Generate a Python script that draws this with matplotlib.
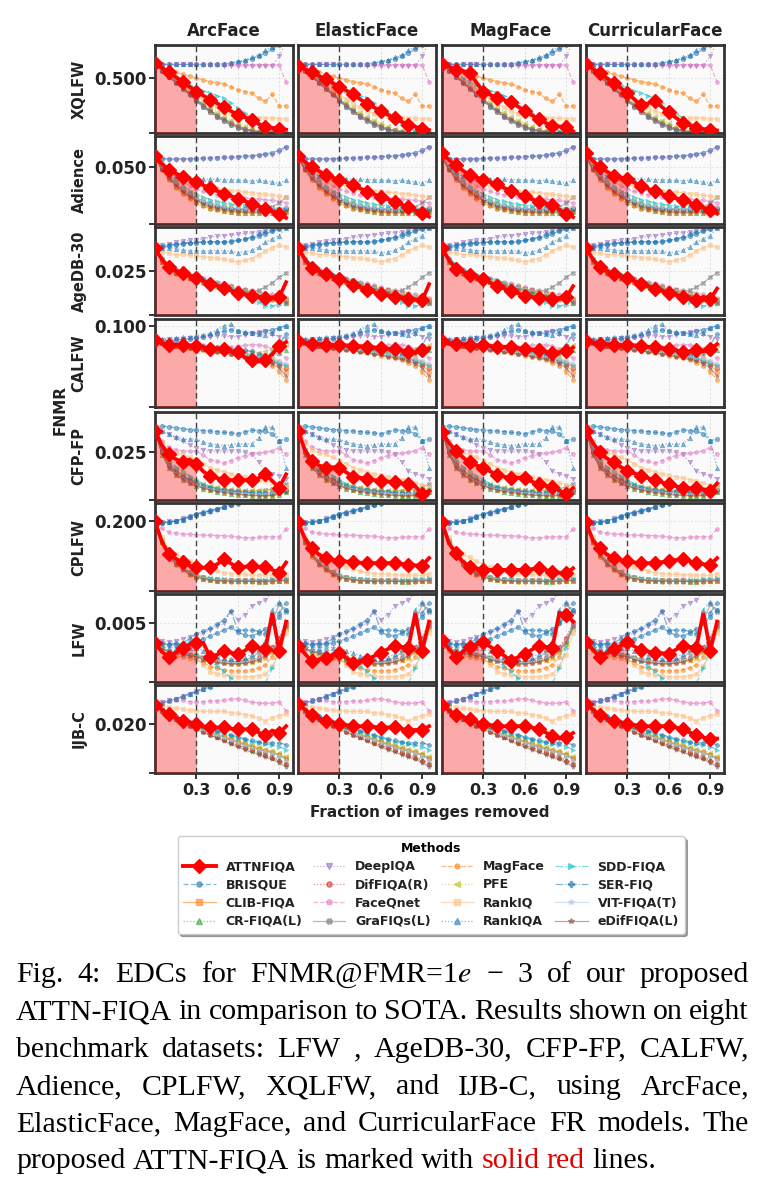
import numpy as np
import matplotlib
matplotlib.use('Agg')
import matplotlib.pyplot as plt
from matplotlib.lines import Line2D

plt.rcParams['font.family'] = ['DejaVu Sans']
plt.rcParams['mathtext.fontset'] = 'stix'

# fraction of images removed
X = np.round(np.arange(20) * 0.05, 2)

COLUMNS = ['ArcFace', 'ElasticFace', 'MagFace', 'CurricularFace']
DATASETS = ['XQLFW', 'Adience', 'AgeDB-30', 'CALFW', 'CFP-FP', 'CPLFW', 'LFW', 'IJB-C']
METHODS = ['BRISQUE', 'CLIB-FIQA', 'CR-FIQA(L)', 'DeepIQA', 'DifFIQA(R)', 'FaceQnet',
           'GraFIQs(L)', 'MagFace', 'PFE', 'RankIQ', 'RankIQA', 'SDD-FIQA', 'SER-FIQ',
           'VIT-FIQA(T)', 'eDifFIQA(L)']

# FNMR@FMR=1e-3, all values in units of 1e-3
XQLFW_ATTN = {
    'ArcFace':        [540, 528, 515, 503, 490, 476, 463, 452, 441, 431, 421, 410, 400, 393, 386, 375, 366, 364, 362, 359],
    'ElasticFace':    [533, 524, 515, 506, 497, 487, 476, 466, 455, 442, 430, 420, 410, 400, 390, 381, 372, 367, 362, 358],
    'MagFace':        [537, 531, 523, 520, 513, 488, 462, 454, 446, 440, 434, 422, 411, 399, 387, 378, 369, 368, 366, 355],
    'CurricularFace': [537, 525, 513, 500, 487, 473, 459, 442, 425, 431, 437, 421, 406, 392, 378, 371, 364, 361, 359, 357],
}
XQLFW_BASE = {
    'BRISQUE':     [538, 537, 537, 537, 537, 537, 537, 537, 537, 538, 538, 540, 543, 547, 553, 560, 568, 578, 590, 600],
    'CLIB-FIQA':   [540, 520, 503, 487, 471, 455, 437, 421, 407, 393, 382, 372, 364, 358, 354, 351, 350, 349, 348, 347],
    'CR-FIQA(L)':  [540, 523, 506, 491, 476, 460, 443, 428, 413, 400, 389, 379, 370, 363, 358, 354, 352, 350, 349, 348],
    'DeepIQA':     [537, 536, 536, 537, 537, 537, 536, 536, 535, 535, 534, 534, 533, 533, 534, 533, 533, 534, 560, 600],
    'DifFIQA(R)':  [541, 521, 504, 489, 473, 457, 441, 425, 410, 397, 386, 376, 368, 361, 357, 353, 351, 350, 349, 348],
    'FaceQnet':    [540, 539, 539, 538, 538, 538, 538, 537, 537, 537, 537, 537, 536, 536, 536, 536, 536, 536, 535, 488],
    'GraFIQs(L)':  [539, 522, 505, 490, 475, 459, 442, 427, 412, 399, 388, 378, 369, 362, 357, 354, 352, 350, 349, 348],
    'MagFace':     [542, 532, 524, 516, 510, 505, 500, 495, 490, 487, 484, 476, 468, 463, 459, 445, 436, 455, 424, 424],
    'PFE':         [540, 524, 508, 493, 478, 463, 448, 434, 420, 407, 395, 385, 376, 368, 362, 357, 354, 352, 350, 349],
    'RankIQ':      [540, 525, 510, 496, 482, 468, 455, 442, 430, 420, 410, 403, 398, 395, 392, 391, 391, 390, 389, 388],
    'RankIQA':     [537, 537, 537, 537, 537, 537, 537, 537, 538, 538, 539, 541, 545, 550, 556, 564, 575, 585, 595, 600],
    'SDD-FIQA':    [540, 528, 515, 500, 488, 480, 472, 465, 459, 452, 445, 432, 418, 405, 391, 378, 364, 356, 352, 350],
    'SER-FIQ':     [538, 520, 502, 486, 470, 454, 437, 421, 406, 393, 382, 372, 364, 358, 354, 352, 350, 349, 348, 347],
    'VIT-FIQA(T)': [540, 521, 504, 488, 472, 456, 439, 423, 408, 395, 384, 374, 366, 360, 355, 352, 350, 349, 348, 347],
    'eDifFIQA(L)': [540, 522, 505, 489, 473, 457, 440, 424, 409, 396, 385, 375, 367, 360, 356, 353, 351, 350, 349, 348],
}

ADIENCE_ATTN = {
    'ArcFace':        [55.4, 51.5, 48.3, 46.5, 44.8, 43.5, 42.1, 40.3, 38.6, 37.2, 35.9, 34.6, 33.3, 32.0, 30.6, 29.4, 28.0, 26.6, 25.3, 23.2],
    'ElasticFace':    [55.5, 52.5, 50.0, 47.8, 45.6, 44.3, 43.0, 41.7, 40.4, 38.6, 36.9, 35.6, 34.3, 33.0, 31.7, 30.2, 28.7, 27.2, 25.6, 23.8],
    'MagFace':        [56.9, 53.5, 50.7, 48.0, 45.6, 44.4, 43.1, 41.9, 40.7, 38.9, 37.1, 35.8, 34.4, 33.0, 31.7, 30.8, 29.9, 27.6, 25.4, 23.6],
    'CurricularFace': [56.9, 53.0, 49.8, 47.5, 45.3, 44.4, 43.5, 41.6, 39.8, 38.4, 37.1, 35.8, 34.4, 33.5, 32.6, 31.2, 29.9, 28.5, 27.2, 25.4],
}
ADIENCE_BASE = {
    'BRISQUE':     [55.0, 54.2, 54.0, 54.0, 54.0, 54.1, 54.2, 54.3, 54.5, 54.7, 54.9, 55.0, 55.2, 55.4, 55.7, 56.0, 56.5, 57.3, 58.5, 60.5],
    'CLIB-FIQA':   [55.5, 49.0, 44.5, 40.8, 37.5, 34.8, 32.5, 30.8, 29.5, 28.5, 27.8, 27.3, 27.0, 26.8, 26.7, 26.6, 26.6, 26.7, 26.9, 27.3],
    'CR-FIQA(L)':  [55.0, 48.5, 43.8, 40.0, 36.8, 34.0, 31.7, 30.0, 28.6, 27.6, 26.9, 26.4, 26.0, 25.8, 25.6, 25.6, 25.7, 25.9, 26.2, 26.5],
    'DeepIQA':     [54.5, 53.8, 53.6, 53.5, 53.6, 53.7, 53.9, 54.0, 54.2, 54.3, 54.4, 54.6, 54.8, 55.0, 55.2, 55.5, 55.9, 56.0, 57.5, 59.5],
    'DifFIQA(R)':  [55.3, 49.2, 44.8, 41.2, 38.0, 35.3, 33.0, 31.3, 30.0, 29.0, 28.3, 27.8, 27.5, 27.3, 27.2, 27.1, 27.2, 27.4, 27.8, 28.3],
    'FaceQnet':    [55.5, 51.0, 47.5, 44.5, 42.0, 40.0, 38.3, 37.0, 36.0, 35.2, 34.6, 34.2, 33.9, 33.6, 33.3, 33.0, 32.7, 32.3, 31.8, 31.0],
    'GraFIQs(L)':  [55.2, 49.5, 45.0, 41.5, 38.5, 35.8, 33.5, 31.8, 30.5, 29.5, 28.8, 28.3, 28.0, 27.9, 27.9, 28.0, 28.3, 29.0, 31.0, 34.0],
    'MagFace':     [55.0, 48.0, 43.0, 39.0, 35.8, 33.0, 30.8, 29.2, 28.0, 27.2, 26.6, 26.2, 26.0, 25.9, 25.9, 26.0, 26.1, 26.3, 26.5, 26.8],
    'PFE':         [55.2, 49.8, 45.5, 42.0, 39.0, 36.5, 34.3, 32.6, 31.3, 30.2, 29.4, 28.8, 28.4, 28.0, 27.8, 27.6, 27.4, 27.2, 27.0, 26.8],
    'RankIQ':      [55.5, 51.5, 48.0, 45.5, 43.5, 42.0, 40.8, 39.8, 39.0, 38.4, 37.9, 37.5, 37.1, 36.7, 36.3, 35.9, 35.5, 35.0, 34.5, 34.0],
    'RankIQA':     [55.0, 50.5, 47.0, 45.0, 44.2, 43.8, 43.6, 43.5, 43.4, 43.3, 43.2, 43.1, 43.0, 42.8, 42.6, 42.8, 42.5, 42.0, 41.3, 43.0],
    'SDD-FIQA':    [55.3, 50.0, 46.0, 42.8, 40.0, 37.5, 35.5, 34.0, 32.8, 31.8, 31.0, 30.3, 29.8, 29.4, 29.0, 28.7, 28.4, 28.2, 28.0, 27.8],
    'SER-FIQ':     [55.0, 49.0, 44.5, 41.0, 38.0, 35.5, 33.3, 31.6, 30.3, 29.3, 28.6, 28.1, 27.8, 27.6, 27.5, 27.4, 27.4, 27.5, 27.7, 28.0],
    'VIT-FIQA(T)': [55.4, 49.3, 44.8, 41.3, 38.2, 35.6, 33.4, 31.8, 30.6, 29.7, 29.0, 28.5, 28.2, 28.0, 27.9, 27.9, 28.0, 28.2, 28.5, 29.0],
    'eDifFIQA(L)': [55.1, 48.6, 44.0, 40.3, 37.1, 34.4, 32.1, 30.4, 29.1, 28.1, 27.4, 26.9, 26.5, 26.3, 26.2, 26.1, 26.2, 26.3, 26.5, 26.8],
}

AGEDB_ATTN = {
    'ArcFace':        [32.7, 29.0, 26.2, 25.1, 24.2, 23.4, 22.7, 21.7, 20.7, 20.0, 19.2, 18.3, 17.5, 17.0, 16.6, 16.2, 15.8, 16.0, 16.1, 21.2],
    'ElasticFace':    [33.0, 29.0, 26.0, 25.0, 24.0, 23.2, 22.4, 21.4, 20.3, 19.5, 18.6, 17.8, 17.0, 16.6, 16.2, 15.9, 15.6, 15.3, 15.0, 20.5],
    'MagFace':        [32.8, 28.8, 25.8, 24.8, 23.8, 23.0, 22.2, 21.0, 19.8, 19.0, 18.2, 17.4, 16.6, 16.2, 15.8, 15.6, 15.4, 15.8, 16.0, 19.8],
    'CurricularFace': [32.9, 29.0, 26.2, 25.0, 23.9, 23.3, 22.6, 21.6, 20.5, 19.8, 19.0, 18.2, 17.4, 16.8, 16.3, 15.6, 15.0, 16.2, 15.4, 19.0],
}
AGEDB_BASE = {
    'BRISQUE':     [32.7, 33.2, 33.6, 34.0, 34.3, 34.5, 34.7, 34.8, 34.9, 35.0, 35.0, 35.2, 35.4, 35.8, 36.2, 36.8, 37.7, 38.5, 39.2, 40.0],
    'CLIB-FIQA':   [32.5, 28.5, 26.0, 24.6, 23.6, 22.8, 22.0, 21.4, 20.9, 20.3, 19.8, 19.2, 18.6, 18.0, 17.4, 16.9, 16.4, 15.9, 15.3, 14.6],
    'CR-FIQA(L)':  [32.6, 28.2, 25.7, 24.3, 23.3, 22.5, 21.8, 21.2, 20.6, 20.0, 19.4, 18.8, 18.2, 17.6, 17.0, 16.5, 16.0, 15.5, 14.9, 14.2],
    'DeepIQA':     [32.8, 33.8, 34.2, 34.8, 35.2, 35.4, 35.5, 36.0, 36.5, 36.8, 37.1, 37.3, 37.5, 37.8, 38.0, 38.3, 38.6, 38.9, 39.2, 40.0],
    'DifFIQA(R)':  [32.4, 28.8, 26.4, 25.0, 24.0, 23.2, 22.5, 21.9, 21.3, 20.7, 20.2, 19.6, 19.0, 18.4, 17.8, 17.3, 16.8, 16.2, 15.6, 15.0],
    'FaceQnet':    [32.7, 29.5, 27.0, 25.6, 24.6, 23.8, 23.1, 22.5, 21.9, 21.3, 20.8, 20.2, 19.6, 19.0, 18.5, 18.0, 17.5, 17.0, 16.4, 15.8],
    'GraFIQs(L)':  [32.5, 28.7, 26.2, 24.8, 23.8, 23.0, 22.3, 21.7, 21.1, 20.5, 20.0, 19.4, 18.9, 18.4, 18.0, 18.4, 19.5, 21.0, 22.8, 24.4],
    'MagFace':     [32.3, 28.0, 25.5, 24.0, 23.0, 22.2, 21.5, 20.8, 20.2, 19.6, 19.0, 18.4, 17.8, 17.2, 16.7, 16.2, 15.7, 15.2, 14.7, 14.2],
    'PFE':         [32.6, 28.9, 26.5, 25.1, 24.1, 23.3, 22.6, 22.0, 21.4, 20.8, 20.2, 19.6, 19.0, 18.5, 18.0, 17.5, 17.0, 16.5, 15.9, 15.3],
    'RankIQ':      [32.7, 31.6, 31.0, 30.5, 30.8, 30.4, 30.2, 29.8, 29.6, 29.3, 29.0, 28.6, 28.1, 28.6, 29.2, 30.5, 31.9, 33.0, 33.7, 33.2],
    'RankIQA':     [32.7, 32.9, 33.0, 32.6, 32.2, 31.9, 31.9, 31.8, 31.9, 31.9, 31.9, 31.7, 31.3, 31.5, 32.0, 33.2, 34.8, 36.0, 37.1, 39.8],
    'SDD-FIQA':    [32.8, 29.6, 27.3, 25.8, 24.7, 23.9, 23.2, 22.5, 21.8, 21.0, 20.2, 19.3, 18.4, 17.4, 16.4, 14.6, 12.9, 13.2, 13.5, 14.0],
    'SER-FIQ':     [32.7, 33.5, 34.0, 34.2, 34.5, 34.7, 34.8, 34.9, 35.0, 35.0, 34.8, 35.0, 35.4, 36.0, 36.5, 37.5, 38.3, 39.0, 39.6, 40.0],
    'VIT-FIQA(T)': [32.5, 28.6, 26.1, 24.7, 23.7, 22.9, 22.2, 21.6, 21.0, 20.4, 19.9, 19.3, 18.7, 18.1, 17.6, 17.1, 16.6, 16.1, 15.5, 14.9],
    'eDifFIQA(L)': [32.4, 28.3, 25.8, 24.4, 23.4, 22.6, 21.9, 21.3, 20.7, 20.1, 19.5, 18.9, 18.3, 17.7, 17.1, 16.6, 16.1, 15.6, 15.0, 14.4],
}

CALFW_ATTN = {
    'ArcFace':        [89.5, 87.0, 85.5, 86.0, 85.5, 85.0, 85.0, 84.0, 83.0, 83.5, 82.5, 81.0, 80.5, 76.5, 75.0, 73.5, 74.5, 79.0, 85.0, 88.0],
    'ElasticFace':    [89.0, 87.5, 86.5, 86.5, 86.0, 86.0, 85.5, 85.5, 85.0, 85.0, 84.5, 84.0, 83.5, 83.0, 82.5, 82.0, 80.5, 80.0, 82.0, 83.5],
    'MagFace':        [88.5, 87.0, 86.5, 86.5, 86.0, 85.5, 85.5, 85.0, 84.5, 84.5, 84.0, 83.5, 83.0, 82.5, 82.0, 81.0, 80.0, 80.5, 81.0, 84.0],
    'CurricularFace': [89.0, 87.5, 86.5, 86.5, 86.0, 86.0, 85.5, 85.5, 85.0, 84.5, 84.0, 83.5, 83.0, 82.0, 80.5, 81.0, 82.0, 81.0, 82.5, 86.5],
}
CALFW_BASE = {
    'BRISQUE':     [89.5, 89.0, 89.0, 89.5, 90.0, 90.5, 91.0, 92.0, 93.0, 94.5, 96.0, 97.0, 96.0, 95.0, 94.5, 95.0, 96.0, 97.0, 98.5, 100.0],
    'CLIB-FIQA':   [89.0, 87.5, 86.0, 85.0, 84.5, 84.0, 83.5, 83.0, 82.5, 82.0, 81.5, 81.0, 80.0, 79.0, 78.0, 77.0, 76.0, 74.0, 71.0, 66.0],
    'CR-FIQA(L)':  [89.2, 87.3, 86.0, 85.3, 84.8, 84.2, 83.6, 83.0, 82.3, 81.7, 81.0, 80.4, 79.8, 79.0, 78.2, 77.5, 77.0, 78.0, 80.0, 82.0],
    'DeepIQA':     [89.5, 89.5, 90.0, 90.5, 90.5, 91.0, 91.0, 91.5, 92.0, 92.5, 92.5, 92.0, 92.0, 93.0, 94.5, 95.5, 96.0, 94.0, 92.0, 90.0],
    'DifFIQA(R)':  [89.0, 87.5, 86.2, 85.3, 84.5, 83.8, 83.2, 82.5, 81.8, 81.0, 80.3, 79.5, 78.8, 78.0, 77.0, 76.0, 75.0, 73.5, 71.5, 68.5],
    'FaceQnet':    [89.5, 88.5, 87.5, 87.0, 86.5, 86.0, 85.8, 85.5, 85.0, 84.5, 84.0, 84.5, 85.0, 85.5, 86.0, 86.0, 85.0, 83.0, 80.0, 76.0],
    'GraFIQs(L)':  [89.0, 87.2, 86.0, 85.2, 84.6, 84.0, 83.3, 82.7, 82.0, 81.3, 80.6, 79.8, 79.0, 78.2, 77.3, 76.5, 75.5, 74.0, 72.0, 70.0],
    'MagFace':     [88.8, 87.0, 85.6, 84.8, 84.0, 83.3, 82.6, 82.0, 81.3, 80.6, 79.8, 79.0, 78.0, 77.0, 76.0, 74.5, 72.5, 70.0, 66.0, 60.0],
    'PFE':         [89.3, 87.8, 86.6, 86.0, 85.5, 85.0, 84.5, 84.0, 83.4, 82.8, 82.2, 81.6, 81.0, 80.5, 80.0, 80.0, 81.0, 83.0, 85.0, 86.0],
    'RankIQ':      [89.5, 88.2, 87.3, 86.6, 86.0, 85.5, 85.0, 84.5, 84.0, 83.5, 83.0, 82.5, 82.0, 81.5, 81.0, 80.0, 79.0, 77.0, 74.0, 70.0],
    'RankIQA':     [89.5, 90.0, 90.5, 91.0, 91.5, 92.0, 92.5, 93.5, 94.5, 97.0, 100.0, 101.0, 96.0, 95.5, 95.0, 94.0, 93.0, 95.0, 98.5, 100.0],
    'SDD-FIQA':    [89.2, 87.6, 86.4, 85.6, 85.0, 84.4, 83.8, 83.2, 82.6, 82.0, 81.4, 80.8, 80.2, 79.5, 78.7, 77.8, 76.5, 75.0, 73.0, 71.0],
    'SER-FIQ':     [89.5, 88.0, 87.0, 86.5, 86.0, 85.8, 85.5, 85.0, 84.5, 84.0, 83.5, 83.0, 82.5, 82.0, 81.0, 79.5, 78.0, 80.0, 86.0, 94.0],
    'VIT-FIQA(T)': [89.2, 87.5, 86.3, 85.5, 84.9, 84.3, 83.7, 83.1, 82.5, 81.8, 81.1, 80.4, 79.6, 78.8, 78.0, 77.2, 76.3, 75.2, 74.0, 72.5],
    'eDifFIQA(L)': [89.0, 87.2, 85.8, 85.0, 84.2, 83.5, 82.8, 82.1, 81.4, 80.6, 79.8, 79.0, 78.2, 77.3, 76.4, 75.3, 74.0, 72.0, 69.0, 63.0],
}

CFPFP_ATTN = {
    'ArcFace':        [29.6, 26.5, 24.6, 23.6, 23.0, 23.5, 22.6, 21.0, 20.0, 19.6, 19.3, 19.2, 19.1, 19.2, 19.1, 19.6, 20.5, 19.0, 17.6, 20.4],
    'ElasticFace':    [29.6, 25.5, 23.3, 22.3, 21.8, 21.9, 21.8, 20.8, 19.9, 19.7, 19.4, 19.2, 19.0, 18.9, 18.7, 18.5, 18.3, 17.9, 16.2, 16.9],
    'MagFace':        [29.3, 27.0, 25.4, 24.0, 22.9, 22.3, 21.8, 21.0, 20.3, 19.9, 19.6, 19.7, 19.6, 18.9, 18.3, 18.0, 17.8, 17.0, 16.3, 17.5],
    'CurricularFace': [29.6, 27.0, 25.0, 23.8, 22.9, 22.0, 21.1, 20.6, 20.1, 19.6, 19.2, 18.7, 18.3, 17.9, 17.5, 17.5, 17.5, 17.2, 16.9, 18.5],
}
CFPFP_BASE = {
    'BRISQUE':     [30.6, 30.5, 30.4, 30.2, 30.0, 29.8, 29.7, 29.6, 29.5, 29.4, 29.2, 29.1, 28.9, 29.3, 29.7, 29.6, 29.5, 28.9, 27.5, 27.8],
    'CLIB-FIQA':   [29.6, 25.0, 22.3, 20.8, 19.8, 19.0, 18.3, 17.8, 17.4, 17.1, 16.9, 16.7, 16.6, 16.5, 16.4, 16.3, 16.3, 16.3, 16.4, 16.9],
    'CR-FIQA(L)':  [29.5, 24.5, 21.8, 20.3, 19.3, 18.5, 17.9, 17.4, 17.0, 16.7, 16.5, 16.3, 16.1, 16.0, 15.9, 15.8, 15.8, 15.9, 16.1, 16.6],
    'DeepIQA':     [29.8, 29.3, 28.9, 28.0, 27.3, 26.6, 26.0, 25.6, 25.3, 25.3, 25.3, 25.3, 25.3, 25.0, 24.6, 23.0, 21.0, 20.5, 20.0, 19.5],
    'DifFIQA(R)':  [29.6, 25.2, 22.5, 21.0, 20.0, 19.2, 18.5, 18.0, 17.6, 17.3, 17.1, 16.9, 16.8, 16.7, 16.6, 16.5, 16.5, 16.5, 16.6, 17.0],
    'FaceQnet':    [29.8, 27.5, 26.2, 25.6, 25.3, 25.3, 25.3, 24.4, 23.5, 23.1, 22.8, 23.3, 23.9, 24.3, 24.6, 24.8, 25.0, 25.4, 26.0, 24.6],
    'GraFIQs(L)':  [29.6, 25.3, 22.7, 21.2, 20.2, 19.4, 18.7, 18.2, 17.8, 17.5, 17.3, 17.1, 17.0, 16.9, 16.9, 16.9, 17.0, 17.3, 17.8, 18.3],
    'MagFace':     [29.5, 24.8, 22.0, 20.5, 19.5, 18.7, 18.1, 17.6, 17.2, 16.9, 16.7, 16.5, 16.3, 16.2, 16.1, 16.0, 16.0, 16.1, 16.4, 17.2],
    'PFE':         [29.6, 25.5, 23.0, 21.5, 20.4, 19.6, 18.9, 18.4, 18.0, 17.7, 17.5, 17.3, 17.2, 17.1, 17.0, 17.0, 17.0, 17.1, 17.3, 17.6],
    'RankIQ':      [29.8, 27.0, 25.6, 24.9, 24.6, 24.0, 23.5, 22.6, 21.8, 21.3, 20.9, 20.5, 20.2, 19.9, 19.6, 19.3, 19.0, 18.6, 18.2, 17.8],
    'RankIQA':     [30.3, 29.5, 28.9, 28.3, 27.9, 27.8, 27.8, 27.2, 26.8, 26.6, 26.4, 26.6, 26.8, 26.7, 26.8, 28.0, 30.3, 30.3, 27.5, 21.8],
    'SDD-FIQA':    [29.7, 26.0, 23.5, 22.0, 21.0, 20.0, 19.2, 18.4, 17.8, 17.4, 17.1, 16.9, 16.7, 16.6, 16.5, 16.5, 16.4, 16.4, 16.5, 16.8],
    'SER-FIQ':     [29.6, 25.1, 22.4, 20.9, 19.9, 19.1, 18.4, 17.9, 17.5, 17.2, 17.0, 16.8, 16.7, 16.6, 16.5, 16.4, 16.4, 16.4, 16.6, 17.0],
    'VIT-FIQA(T)': [29.6, 24.9, 22.1, 20.6, 19.6, 18.8, 18.2, 17.7, 17.3, 17.0, 16.8, 16.6, 16.5, 16.4, 16.3, 16.3, 16.3, 16.4, 16.6, 17.1],
    'eDifFIQA(L)': [29.5, 24.6, 21.9, 20.4, 19.4, 18.6, 18.0, 17.5, 17.1, 16.8, 16.6, 16.4, 16.2, 16.1, 16.0, 15.9, 15.9, 16.0, 16.2, 16.7],
}

CPLFW_ATTN = {
    'ArcFace':        [199, 170, 152.5, 146, 140.5, 136, 133.4, 133, 133.4, 138, 145.4, 139, 133.4, 134.5, 135.8, 134.5, 133.4, 130, 126.2, 140.5],
    'ElasticFace':    [197.5, 175, 161.3, 152, 146.8, 144, 143, 142, 141, 140.2, 139.6, 139.6, 139.6, 139.6, 139.6, 138.5, 137.2, 136.5, 136.2, 146.8],
    'MagFace':        [197.5, 168, 154, 142, 134.8, 132, 130, 130, 130, 130, 130, 130, 130, 131, 132.3, 130, 127.5, 126, 125.1, 132.3],
    'CurricularFace': [197.5, 172, 161.3, 152, 146.8, 144, 142, 140.5, 139.6, 139.6, 139.6, 141, 142, 144, 145.8, 142.5, 139.6, 138, 137.2, 146.8],
}
CPLFW_BASE = {
    'BRISQUE':     [196, 197, 198, 200, 202.6, 206, 210, 212, 214.5, 217, 219, 222, 225, 228, 231, 233, 235, 237, 239, 240],
    'CLIB-FIQA':   [198, 170, 152, 140, 132.5, 125.5, 121, 118.5, 116.5, 115.5, 115, 114.7, 114.5, 114.3, 114.2, 114, 114, 114.2, 114.5, 115.5],
    'CR-FIQA(L)':  [197.5, 169, 150.5, 138.5, 131, 124, 119.8, 117.3, 115.6, 114.7, 114.2, 114, 113.8, 113.6, 113.5, 113.4, 113.4, 113.6, 113.9, 114.8],
    'DeepIQA':     [197, 198, 199, 200, 203, 205, 207, 209, 212, 215, 219, 222, 225, 228, 231, 233, 235, 237, 239, 240],
    'DifFIQA(R)':  [198, 171, 153, 141, 133.5, 126.5, 122, 119.5, 117.5, 116.5, 115.9, 115.5, 115.3, 115.1, 115, 114.9, 114.9, 115, 115.3, 116.2],
    'FaceQnet':    [195, 189, 183.5, 182, 181, 180.5, 180, 179.5, 179, 178.8, 178.7, 177.5, 176.3, 175.8, 175.5, 176, 177, 177, 177, 188],
    'GraFIQs(L)':  [197.8, 170.5, 152.5, 140.5, 133, 126, 121.5, 119, 117, 116, 115.5, 115.1, 114.9, 114.7, 114.6, 114.5, 114.5, 114.7, 115, 116],
    'MagFace':     [197, 168, 149, 137, 129.5, 123, 119, 116.5, 115, 114.1, 113.7, 113.4, 113.2, 113.1, 113, 113, 113.1, 113.3, 113.7, 114.7],
    'PFE':         [198, 172, 155, 143, 135, 128, 123, 120.3, 118.3, 117.2, 116.6, 116.2, 115.9, 115.7, 115.5, 115.4, 115.4, 115.6, 115.9, 117],
    'RankIQ':      [198.5, 177, 160, 152, 147.7, 142, 138, 134.5, 131, 128, 126, 124.8, 124, 123.5, 123, 122.7, 122.7, 122.5, 122.2, 124],
    'RankIQA':     [197, 197.5, 198, 199, 201.5, 204.5, 208, 211, 214, 217, 220, 223, 226, 229, 232, 234, 236, 238, 240, 241],
    'SDD-FIQA':    [198.5, 172, 154, 142, 134, 127, 122.5, 120, 118, 117, 116.5, 116.1, 115.8, 115.6, 115.5, 115.6, 115.9, 116.5, 117.3, 118.5],
    'SER-FIQ':     [196.5, 197, 197.5, 199, 201.5, 205, 209, 211.5, 214, 216.5, 219, 221.5, 224, 227, 229, 231, 233, 235, 237, 239],
    'VIT-FIQA(T)': [198, 170.5, 152, 140, 132.5, 125.7, 121.2, 118.7, 116.8, 115.8, 115.3, 115, 114.8, 114.6, 114.5, 114.4, 114.5, 114.7, 115, 116],
    'eDifFIQA(L)': [197.5, 169.5, 151, 139, 131.5, 124.5, 120, 117.6, 115.8, 114.9, 114.4, 114.1, 113.9, 113.8, 113.7, 113.6, 113.7, 113.9, 114.3, 115.3],
}

LFW_ATTN = {
    'ArcFace':        [3.98, 3.55, 3.27, 3.50, 3.76, 3.90, 3.98, 4.00, 3.27, 3.40, 3.59, 3.50, 3.41, 3.60, 3.85, 3.75, 3.67, 5.53, 3.59, 5.09],
    'ElasticFace':    [3.85, 3.45, 3.06, 3.15, 3.24, 3.37, 3.50, 3.24, 2.97, 3.06, 3.15, 3.32, 3.50, 3.68, 3.85, 3.80, 3.76, 5.53, 3.59, 5.09],
    'MagFace':        [4.15, 3.70, 3.27, 3.55, 3.80, 3.90, 4.03, 3.80, 3.59, 3.35, 3.09, 3.27, 3.45, 3.65, 3.85, 3.80, 3.76, 5.53, 5.44, 5.09],
    'CurricularFace': [4.03, 3.65, 3.27, 3.48, 3.68, 3.85, 4.03, 3.82, 3.62, 3.56, 3.50, 3.47, 3.45, 3.65, 3.85, 3.80, 3.76, 5.53, 3.59, 5.09],
}
LFW_BASE = {
    'BRISQUE':     [4.00, 3.95, 3.90, 3.90, 3.95, 4.00, 4.10, 4.20, 4.35, 4.50, 4.65, 4.80, 4.55, 4.40, 4.35, 4.50, 4.70, 5.00, 5.30, 5.70],
    'CLIB-FIQA':   [3.90, 3.70, 3.55, 3.48, 3.42, 3.38, 3.32, 3.15, 3.05, 3.00, 2.95, 2.92, 2.92, 2.95, 3.00, 3.10, 3.25, 3.55, 4.00, 4.90],
    'CR-FIQA(L)':  [3.95, 3.72, 3.55, 3.48, 3.43, 3.38, 3.33, 3.20, 3.10, 3.05, 3.02, 3.00, 3.00, 3.05, 3.15, 3.28, 3.45, 3.75, 4.20, 5.00],
    'DeepIQA':     [4.12, 4.08, 4.05, 4.10, 4.20, 4.30, 4.38, 4.50, 4.65, 4.85, 5.00, 5.60, 5.18, 5.45, 5.88, 6.05, 6.20, 6.60, 7.00, 7.00],
    'DifFIQA(R)':  [3.95, 3.75, 3.60, 3.52, 3.45, 3.40, 3.35, 3.25, 3.15, 3.10, 3.05, 3.02, 3.02, 3.05, 3.12, 3.25, 3.45, 3.80, 4.25, 5.05],
    'FaceQnet':    [3.90, 3.70, 3.55, 3.50, 3.45, 3.40, 3.35, 3.22, 3.10, 3.02, 2.98, 2.95, 2.95, 2.98, 3.05, 3.20, 3.40, 3.70, 4.15, 4.95],
    'GraFIQs(L)':  [3.92, 3.73, 3.58, 3.52, 3.46, 3.42, 3.38, 3.28, 3.18, 3.12, 3.08, 3.05, 3.06, 3.12, 3.25, 3.50, 3.90, 5.10, 5.97, 5.60],
    'MagFace':     [3.85, 3.62, 3.45, 3.35, 3.28, 3.22, 3.15, 2.98, 2.79, 2.70, 2.62, 2.58, 2.56, 2.58, 2.62, 2.72, 2.88, 3.30, 3.90, 4.80],
    'PFE':         [3.95, 3.74, 3.58, 3.50, 3.44, 3.40, 3.35, 3.22, 3.12, 3.06, 3.02, 2.98, 2.98, 3.00, 3.05, 3.15, 3.30, 3.55, 3.95, 4.70],
    'RankIQ':      [3.85, 3.60, 3.45, 3.35, 3.30, 3.25, 3.20, 2.85, 2.53, 2.42, 2.35, 2.30, 2.26, 2.26, 2.28, 2.32, 2.40, 2.80, 3.40, 4.50],
    'RankIQA':     [3.85, 3.80, 3.75, 3.75, 3.75, 3.76, 3.76, 3.60, 3.50, 3.35, 3.25, 3.20, 3.15, 3.25, 3.41, 3.70, 4.12, 5.70, 6.10, 5.70],
    'SDD-FIQA':    [3.95, 3.75, 3.60, 3.52, 3.45, 3.40, 3.35, 3.20, 3.05, 2.80, 2.55, 2.20, 1.95, 1.95, 1.95, 1.95, 1.95, 2.70, 3.75, 4.80],
    'SER-FIQ':     [4.00, 3.98, 3.95, 3.97, 4.00, 4.20, 4.47, 4.60, 4.74, 4.95, 5.18, 5.62, 4.65, 4.65, 4.65, 4.60, 4.47, 5.00, 5.53, 6.06],
    'VIT-FIQA(T)': [3.93, 3.73, 3.57, 3.50, 3.44, 3.39, 3.34, 3.22, 3.12, 3.06, 3.02, 2.99, 2.99, 3.02, 3.10, 3.22, 3.40, 3.70, 4.10, 4.85],
    'eDifFIQA(L)': [3.90, 3.70, 3.55, 3.47, 3.40, 3.35, 3.30, 3.15, 3.05, 3.00, 2.96, 2.93, 2.93, 2.96, 3.03, 3.15, 3.35, 3.65, 4.05, 4.85],
}

IJBC_ATTN = {
    'ArcFace':        [23.1, 22.3, 21.6, 21.0, 20.5, 20.2, 19.9, 19.6, 19.4, 19.4, 19.4, 19.2, 19.1, 19.1, 19.1, 18.6, 18.1, 18.9, 18.5, 19.6],
    'ElasticFace':    [23.2, 22.3, 21.5, 20.9, 20.4, 20.2, 20.0, 19.8, 19.6, 19.6, 19.6, 19.5, 19.3, 19.4, 19.5, 19.2, 18.9, 19.0, 19.0, 19.6],
    'MagFace':        [23.0, 22.2, 21.5, 21.1, 20.7, 20.3, 20.0, 19.8, 19.6, 19.6, 19.6, 19.6, 19.6, 19.4, 19.15, 18.6, 18.0, 17.6, 17.8, 18.5],
    'CurricularFace': [23.2, 22.3, 21.5, 20.9, 20.4, 20.2, 20.0, 19.8, 19.6, 19.6, 19.6, 19.6, 19.6, 19.4, 19.15, 18.6, 18.2, 17.8, 17.5, 17.6],
}
IJBC_BASE = {
    'BRISQUE':     [23.1, 23.4, 23.7, 24.0, 24.4, 24.8, 25.2, 25.6, 26.0, 26.4, 26.8, 27.2, 27.6, 28.0, 28.4, 28.8, 29.2, 29.6, 30.0, 30.4],
    'CLIB-FIQA':   [23.0, 22.2, 21.5, 21.0, 20.5, 20.0, 19.5, 19.0, 18.6, 18.2, 17.8, 17.4, 17.0, 16.6, 16.2, 15.9, 15.6, 15.3, 14.9, 14.2],
    'CR-FIQA(L)':  [23.0, 22.1, 21.4, 20.8, 20.3, 19.8, 19.3, 18.8, 18.3, 17.9, 17.5, 17.0, 16.6, 16.2, 15.8, 15.4, 15.0, 14.6, 14.2, 13.5],
    'DeepIQA':     [23.1, 23.5, 23.8, 24.1, 24.5, 24.9, 25.3, 25.7, 26.1, 26.5, 26.9, 27.3, 27.7, 28.1, 28.5, 28.9, 29.3, 29.7, 30.1, 30.5],
    'DifFIQA(R)':  [23.0, 22.1, 21.3, 20.7, 20.2, 19.7, 19.2, 18.7, 18.2, 17.8, 17.4, 16.9, 16.5, 16.1, 15.7, 15.3, 14.9, 14.5, 14.0, 13.4],
    'FaceQnet':    [23.3, 23.5, 23.7, 23.8, 23.8, 23.6, 23.5, 23.6, 23.7, 23.7, 23.8, 24.0, 24.1, 23.8, 23.5, 23.4, 23.3, 23.4, 23.5, 22.1],
    'GraFIQs(L)':  [23.1, 22.2, 21.5, 20.9, 20.4, 19.9, 19.4, 19.0, 18.6, 18.2, 17.8, 17.4, 17.0, 16.6, 16.2, 15.9, 15.6, 15.3, 15.0, 14.4],
    'MagFace':     [23.1, 22.3, 21.6, 21.1, 20.6, 20.1, 19.6, 19.1, 18.7, 18.3, 17.9, 17.5, 17.1, 16.8, 16.4, 16.1, 15.8, 15.5, 15.1, 14.5],
    'PFE':         [23.1, 22.3, 21.6, 21.0, 20.6, 20.1, 19.7, 19.3, 18.9, 18.5, 18.1, 17.7, 17.3, 16.9, 16.5, 16.2, 15.9, 15.6, 15.3, 14.8],
    'RankIQ':      [23.1, 22.9, 22.7, 22.5, 22.4, 22.2, 22.1, 22.0, 22.0, 22.0, 22.0, 21.8, 21.7, 21.5, 21.3, 20.9, 20.5, 21.0, 21.3, 21.6],
    'RankIQA':     [23.1, 23.4, 23.8, 24.1, 24.5, 24.9, 25.3, 25.7, 26.1, 26.5, 26.9, 27.3, 27.7, 28.0, 28.4, 28.8, 29.2, 29.6, 30.0, 30.4],
    'SDD-FIQA':    [23.1, 22.3, 21.7, 21.2, 20.7, 20.2, 19.8, 19.4, 19.0, 18.7, 18.4, 18.0, 17.7, 17.4, 17.1, 16.9, 16.7, 16.5, 16.3, 15.8],
    'SER-FIQ':     [23.1, 22.4, 21.7, 21.2, 20.8, 20.3, 19.9, 19.5, 19.2, 18.9, 18.6, 18.2, 17.9, 17.6, 17.3, 17.1, 16.9, 16.9, 16.9, 16.6],
    'VIT-FIQA(T)': [23.0, 22.2, 21.5, 20.9, 20.4, 19.9, 19.4, 18.9, 18.5, 18.1, 17.7, 17.3, 16.9, 16.5, 16.1, 15.8, 15.5, 15.2, 14.8, 14.1],
    'eDifFIQA(L)': [23.0, 22.0, 21.2, 20.6, 20.1, 19.6, 19.1, 18.6, 18.1, 17.7, 17.2, 16.7, 16.2, 15.8, 15.4, 15.0, 14.6, 14.2, 13.7, 13.0],
}

# one labelled y break per dataset (x1e-3) and the visible range
Y_BREAK = {'XQLFW': 500, 'Adience': 50, 'AgeDB-30': 25, 'CALFW': 100,
           'CFP-FP': 25, 'CPLFW': 200, 'LFW': 5, 'IJB-C': 20}
Y_RANGE = {'XQLFW': (350, 590), 'Adience': (20, 66), 'AgeDB-30': (10, 40), 'CALFW': (40, 105),
           'CFP-FP': (15, 33.5), 'CPLFW': (100, 225), 'LFW': (2.0, 6.5), 'IJB-C': (12, 26.3)}

ATTN = {'XQLFW': XQLFW_ATTN, 'Adience': ADIENCE_ATTN, 'AgeDB-30': AGEDB_ATTN, 'CALFW': CALFW_ATTN,
        'CFP-FP': CFPFP_ATTN, 'CPLFW': CPLFW_ATTN, 'LFW': LFW_ATTN, 'IJB-C': IJBC_ATTN}
BASE = {'XQLFW': XQLFW_BASE, 'Adience': ADIENCE_BASE, 'AgeDB-30': AGEDB_BASE, 'CALFW': CALFW_BASE,
        'CFP-FP': CFPFP_BASE, 'CPLFW': CPLFW_BASE, 'LFW': LFW_BASE, 'IJB-C': IJBC_BASE}

# colour, linestyle, marker
STYLE = {
    'BRISQUE':     ('#1f77b4', (0, (4, 2)), 'o'),
    'CLIB-FIQA':   ('#ff7f0e', '-', 's'),
    'CR-FIQA(L)':  ('#2ca02c', ':', '^'),
    'DeepIQA':     ('#9467bd', ':', 'v'),
    'DifFIQA(R)':  ('#d62728', ':', 'o'),
    'FaceQnet':    ('#e377c2', '--', 'p'),
    'GraFIQs(L)':  ('#7f7f7f', '-', 'X'),
    'MagFace':     ('#ff7f0e', '--', 'h'),
    'PFE':         ('#bcbd22', ':', '<'),
    'RankIQ':      ('#ffbb78', '-', 's'),
    'RankIQA':     ('#1f77b4', ':', '^'),
    'SDD-FIQA':    ('#17becf', '-.', '>'),
    'SER-FIQ':     ('#1f77b4', '-.', 'P'),
    'VIT-FIQA(T)': ('#aec7e8', '-', '*'),
    'eDifFIQA(L)': ('#8c564b', '-', '*'),
}
B_ALPHA = 0.55
DARK = '#333333'

W, H = 765, 1185
fig = plt.figure(figsize=(W / 100, H / 100), dpi=100)

col_left = [155, 298, 442, 586]
row_top = [45, 136, 227, 319, 412, 503, 594, 685]
pw, ph = 138, 88

for r, ds in enumerate(DATASETS):
    lo, hi = Y_RANGE[ds]
    for c, fr in enumerate(COLUMNS):
        ax = fig.add_axes([col_left[c] / W, 1 - (row_top[r] + ph) / H, pw / W, ph / H])
        ax.set_facecolor('#fafafa')
        ax.set_xlim(0, 1.0)
        ax.set_ylim(lo / 1000, hi / 1000)
        for xv in (0.6, 0.9):
            ax.axvline(xv, color='#dddddd', lw=0.6, ls=(0, (3, 2)), zorder=0)
        ax.axhline(Y_BREAK[ds] / 1000, color='#e3e3e3', lw=0.6, ls=(0, (3, 2)), zorder=0)

        for m in METHODS:
            col, ls, mk = STYLE[m]
            ax.plot(X, np.asarray(BASE[ds][m]) / 1000, color=col, ls=ls, lw=0.9,
                    marker=mk, ms=3.3, mew=0.4, alpha=B_ALPHA, zorder=2)

        red = np.asarray(ATTN[ds][fr]) / 1000
        keep = X <= 0.3
        ax.fill_between(X[keep], lo / 1000, red[keep], color='#ff0000', alpha=0.32,
                        lw=0, zorder=3)
        ax.axvline(0.3, color='#444444', lw=1.0, ls=(0, (4, 2.5)), zorder=4)
        ax.plot(X, red, color='#ff0000', lw=2.7, marker='D', ms=7.5, markevery=2,
                zorder=6, solid_joinstyle='miter')

        for sp in ax.spines.values():
            sp.set_color(DARK)
            sp.set_linewidth(2.0)

        if c == 0:
            ax.set_yticks([lo / 1000, Y_BREAK[ds] / 1000])
            ax.set_yticklabels(['', f'{Y_BREAK[ds] / 1000:.3f}'])
            ax.tick_params(axis='y', length=4, width=1.4, color=DARK, pad=2,
                           labelsize=12, labelcolor='#222222')
            for lab in ax.get_yticklabels():
                lab.set_fontweight('bold')
        else:
            ax.set_yticks([])
        if r == len(DATASETS) - 1:
            ax.set_xticks([0.3, 0.6, 0.9])
            ax.set_xticklabels(['0.3', '0.6', '0.9'])
            ax.tick_params(axis='x', length=4, width=1.4, color=DARK, pad=3,
                           labelsize=11.5, labelcolor='#222222')
            for lab in ax.get_xticklabels():
                lab.set_fontweight('bold')
        else:
            ax.set_xticks([])

        if r == 0:
            fig.text((col_left[c] + pw / 2) / W, 1 - 31 / H, fr, ha='center', va='center',
                     fontsize=12, fontweight='bold', color='#222222')
    fig.text(79 / W, 1 - (row_top[r] + ph / 2) / H, ds, rotation=90, ha='center', va='center',
             fontsize=10.5, fontweight='bold', color='#222222')

fig.text(60 / W, 1 - 410 / H, 'FNMR', rotation=90, ha='center', va='center',
         fontsize=11, fontweight='bold', color='#222222')
fig.text(430 / W, 1 - 813 / H, 'Fraction of images removed', ha='center', va='center',
         fontsize=11, fontweight='bold', color='#222222')

# legend
handles = [Line2D([], [], color='#ff0000', lw=2.8, marker='D', ms=7.5, label='ATTNFIQA')]
for m in METHODS:
    col, ls, mk = STYLE[m]
    handles.append(Line2D([], [], color=col, ls=ls, lw=0.9, marker=mk, ms=3.8,
                          alpha=B_ALPHA, label=m))
leg = fig.legend(handles=handles, ncol=4, loc='center', bbox_to_anchor=(431 / W, 1 - 885 / H),
                 title='Methods', prop={'weight': 'bold', 'size': 9},
                 title_fontproperties={'weight': 'bold', 'size': 9},
                 handlelength=2.6, handletextpad=0.8, columnspacing=0.8, labelspacing=0.42,
                 frameon=True, fancybox=True, shadow=True, edgecolor='#cccccc',
                 borderpad=0.45)
for t in leg.get_texts():
    t.set_color('#222222')

# caption, justified
CAPTION = [
    ['Fig.', '4:', 'EDCs', 'for', 'FNMR@FMR=1$e$', '\u2212', '3', 'of', 'our', 'proposed'],
    ['ATTN-FIQA', 'in', 'comparison', 'to', 'SOTA.', 'Results', 'shown', 'on', 'eight'],
    ['benchmark', 'datasets:', 'LFW', ',', 'AgeDB-30,', 'CFP-FP,', 'CALFW,'],
    ['Adience,', 'CPLFW,', 'XQLFW,', 'and', 'IJB-C,', 'using', 'ArcFace,'],
    ['ElasticFace,', 'MagFace,', 'and', 'CurricularFace', 'FR', 'models.', 'The'],
    ['proposed', 'ATTN-FIQA', 'is', 'marked', 'with', 'solid', 'red', 'lines.'],
]
RED_WORDS = {(5, 5), (5, 6)}
cap_size = 21.5
x_left, x_right = 16, 749
renderer = fig.canvas.get_renderer()
for i, words in enumerate(CAPTION):
    y = 1 - (982 + i * 37.3) / H
    texts = []
    for j, w in enumerate(words):
        t = fig.text(0, y, w, fontsize=cap_size, family='Liberation Serif',
                     color='#e00000' if (i, j) in RED_WORDS else 'black', va='baseline')
        texts.append(t)
    widths = [t.get_window_extent(renderer).width for t in texts]
    if i < len(CAPTION) - 1:
        gap = (x_right - x_left - sum(widths)) / (len(words) - 1)
    else:
        gap = cap_size * 0.25 * 100 / 72
    x = x_left
    for t, wd in zip(texts, widths):
        t.set_x(x / W)
        x += wd + gap

fig.savefig('out.png', dpi=100)
